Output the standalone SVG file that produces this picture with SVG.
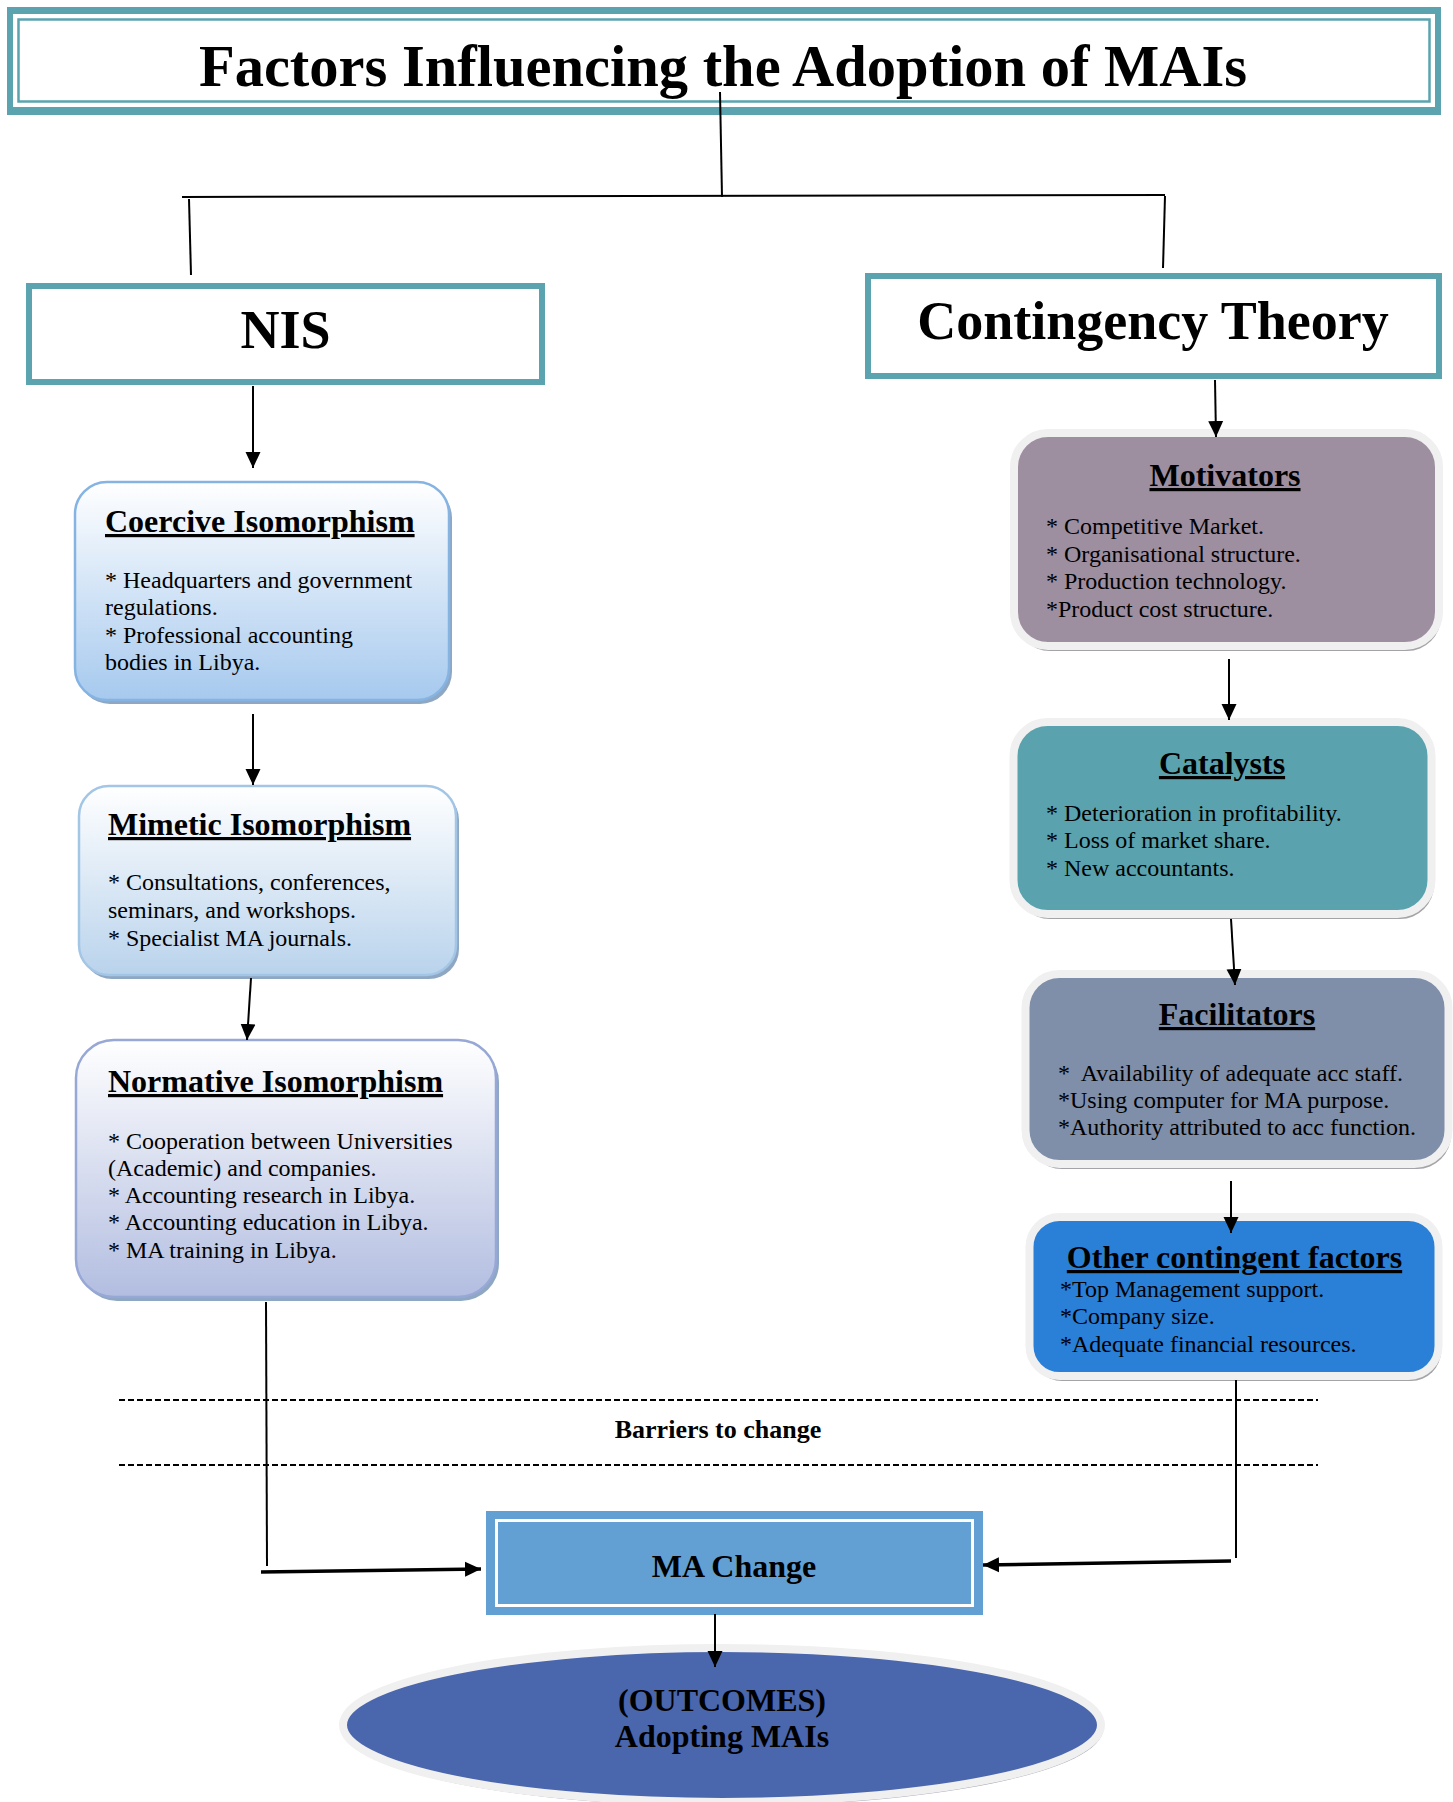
<svg xmlns="http://www.w3.org/2000/svg" width="1453" height="1802" viewBox="0 0 1453 1802">
<style>
text{font-family:"Liberation Serif","Times New Roman",serif;fill:#000}
.b{font-weight:bold}
.ttl{font-weight:bold;font-size:32px;text-decoration:underline}
.body{font-size:24px}
.conn{stroke:#000;stroke-width:2;fill:none}
.thick{stroke:#000;stroke-width:3.5;fill:none}
.teal{fill:#fff;stroke:#5ba3ae;stroke-width:6}
.rbox{stroke:#f0f0f0;stroke-width:8}
.shadow{fill:#a3a3a8}
.lshadow{fill:#8ea7c3}
</style>
<defs>
<linearGradient id="gCo" x1="0" y1="0" x2="0" y2="1"><stop offset="0" stop-color="#ffffff"/><stop offset="1" stop-color="#a6c9ee"/></linearGradient>
<linearGradient id="gMi" x1="0" y1="0" x2="0" y2="1"><stop offset="0" stop-color="#ffffff"/><stop offset="1" stop-color="#b9d3ec"/></linearGradient>
<linearGradient id="gNo" x1="0" y1="0" x2="0" y2="1"><stop offset="0" stop-color="#ffffff"/><stop offset="1" stop-color="#b2bde0"/></linearGradient>
<marker id="arr" markerUnits="userSpaceOnUse" markerWidth="16" markerHeight="16" refX="16" refY="8" orient="auto"><path d="M0,0.5 L16,8 L0,15.5 z" fill="#000"/></marker>
</defs>

<g id="title">
<rect x="7" y="7" width="1434" height="108" fill="#5ba3ae"/>
<rect x="13" y="14" width="1422" height="93" fill="#fff"/>
<rect x="18.5" y="19.5" width="1411" height="82" fill="none" stroke="#5ba3ae" stroke-width="2.5"/>
<text class="b" x="723" y="86" font-size="58.5" text-anchor="middle">Factors Influencing the Adoption of MAIs</text>
</g>

<g id="nis">
<rect class="teal" x="29" y="286" width="513" height="96"/>
<text class="b" x="285.5" y="348" font-size="54" text-anchor="middle">NIS</text>
</g>

<g id="contingency">
<rect class="teal" x="868" y="276" width="571" height="100"/>
<text class="b" x="1153" y="339" font-size="54" text-anchor="middle">Contingency Theory</text>
</g>

<g id="coercive">
<rect class="lshadow" x="78" y="486" width="374" height="218" rx="32"/>
<rect x="75" y="482" width="374" height="218" rx="32" fill="url(#gCo)" stroke="#86b4e2" stroke-width="2.5"/>
<text class="ttl" x="105" y="532">Coercive Isomorphism</text>
<text class="body" x="105" y="588">* Headquarters and government</text>
<text class="body" x="105" y="615">regulations.</text>
<text class="body" x="105" y="643">* Professional accounting</text>
<text class="body" x="105" y="670">bodies in Libya.</text>
</g>

<g id="mimetic">
<rect class="lshadow" x="82" y="790" width="377" height="189" rx="30"/>
<rect x="79" y="786" width="377" height="189" rx="30" fill="url(#gMi)" stroke="#a4c6e6" stroke-width="2.5"/>
<text class="ttl" x="108" y="835">Mimetic Isomorphism</text>
<text class="body" x="108" y="890">* Consultations, conferences,</text>
<text class="body" x="108" y="918">seminars, and workshops.</text>
<text class="body" x="108" y="946">* Specialist MA journals.</text>
</g>

<g id="normative">
<rect class="lshadow" x="79" y="1044" width="420" height="257" rx="38"/>
<rect x="76" y="1040" width="420" height="257" rx="38" fill="url(#gNo)" stroke="#97a7d6" stroke-width="2.5"/>
<text class="ttl" x="108" y="1092">Normative Isomorphism</text>
<text class="body" x="108" y="1149">* Cooperation between Universities</text>
<text class="body" x="108" y="1176">(Academic) and companies.</text>
<text class="body" x="108" y="1203">* Accounting research in Libya.</text>
<text class="body" x="108" y="1230">* Accounting education in Libya.</text>
<text class="body" x="108" y="1258">* MA training in Libya.</text>
</g>

<g id="motivators">
<rect class="shadow" x="1016" y="438" width="425" height="213" rx="34"/>
<rect class="rbox" x="1014" y="433" width="425" height="213" rx="34" fill="#9e8fa0"/>
<text class="ttl" x="1225" y="486" text-anchor="middle">Motivators</text>
<text class="body" x="1046" y="534" font-size="23">* Competitive Market.</text>
<text class="body" x="1046" y="562" font-size="23">* Organisational structure.</text>
<text class="body" x="1046" y="589" font-size="23">* Production technology.</text>
<text class="body" x="1046" y="617" font-size="23">*Product cost structure.</text>
</g>

<g id="catalysts">
<rect class="shadow" x="1016" y="727" width="418" height="192" rx="34"/>
<rect class="rbox" x="1013.5" y="722" width="418" height="192" rx="34" fill="#5aa3ae"/>
<text class="ttl" x="1222" y="774" text-anchor="middle">Catalysts</text>
<text class="body" x="1046" y="821">* Deterioration in profitability.</text>
<text class="body" x="1046" y="848">* Loss of market share.</text>
<text class="body" x="1046" y="876">* New accountants.</text>
</g>

<g id="facilitators">
<rect class="shadow" x="1028" y="979" width="423" height="190" rx="34"/>
<rect class="rbox" x="1025.5" y="974" width="423" height="190" rx="34" fill="#7f8fa9"/>
<text class="ttl" x="1237" y="1025" text-anchor="middle">Facilitators</text>
<text class="body" x="1058" y="1081" xml:space="preserve">*  Availability of adequate acc staff.</text>
<text class="body" x="1058" y="1108">*Using computer for MA purpose.</text>
<text class="body" x="1058" y="1135">*Authority attributed to acc function.</text>
</g>

<g id="other">
<rect class="shadow" x="1032" y="1222" width="409" height="159" rx="30"/>
<rect class="rbox" x="1029.5" y="1217" width="409" height="159" rx="30" fill="#2a7fd6"/>
<text class="ttl" x="1234.5" y="1268" text-anchor="middle">Other contingent factors</text>
<text class="body" x="1060" y="1297">*Top Management support.</text>
<text class="body" x="1060" y="1324">*Company size.</text>
<text class="body" x="1060" y="1352">*Adequate financial resources.</text>
</g>

<g id="barriers">
<line x1="119" y1="1400" x2="1318" y2="1400" stroke="#000" stroke-width="2" stroke-dasharray="6 3"/>
<line x1="119" y1="1465" x2="1318" y2="1465" stroke="#000" stroke-width="2" stroke-dasharray="6 3"/>
<text class="b" x="718" y="1438" font-size="26" text-anchor="middle">Barriers to change</text>
</g>

<g id="ma-change">
<rect x="486" y="1511" width="497" height="104" fill="#629fd3"/>
<rect x="496.5" y="1520.5" width="476" height="85" fill="none" stroke="#fff" stroke-width="3"/>
<text class="b" x="734" y="1577" font-size="32" text-anchor="middle">MA Change</text>
</g>

<g id="outcomes">
<ellipse cx="724" cy="1729" rx="379" ry="77" fill="#9ea3b3"/>
<ellipse cx="722" cy="1725" rx="379" ry="77" fill="#4a66ad" stroke="#f0f0f0" stroke-width="8"/>
<text class="b" x="722" y="1711" font-size="32" text-anchor="middle">(OUTCOMES)</text>
<text class="b" x="722" y="1747" font-size="32" text-anchor="middle">Adopting MAIs</text>
</g>

<g id="connectors">
<line class="conn" x1="720" y1="92" x2="722" y2="197"/>
<line class="conn" x1="182" y1="197" x2="1165" y2="195"/>
<line class="conn" x1="189" y1="199" x2="191" y2="275"/>
<line class="conn" x1="1165" y1="196" x2="1163" y2="268"/>
<line class="conn" x1="253" y1="386" x2="253" y2="468" marker-end="url(#arr)"/>
<line class="conn" x1="253" y1="714" x2="253" y2="785" marker-end="url(#arr)"/>
<line class="conn" x1="251" y1="978" x2="247" y2="1040" marker-end="url(#arr)"/>
<line class="conn" x1="1215" y1="380" x2="1216" y2="437" marker-end="url(#arr)"/>
<line class="conn" x1="1229" y1="659" x2="1229" y2="720" marker-end="url(#arr)"/>
<line class="conn" x1="1231" y1="919" x2="1235" y2="985" marker-end="url(#arr)"/>
<line class="conn" x1="1231" y1="1181" x2="1231" y2="1233" marker-end="url(#arr)"/>
<line class="conn" x1="266" y1="1302" x2="267" y2="1566"/>
<line class="thick" x1="261" y1="1572" x2="481" y2="1569" marker-end="url(#arr)"/>
<line class="conn" x1="1236" y1="1380" x2="1236" y2="1558"/>
<line class="thick" x1="1231" y1="1561" x2="983" y2="1565" marker-end="url(#arr)"/>
<line class="conn" x1="715" y1="1614" x2="715" y2="1667" marker-end="url(#arr)"/>
</g>
</svg>
